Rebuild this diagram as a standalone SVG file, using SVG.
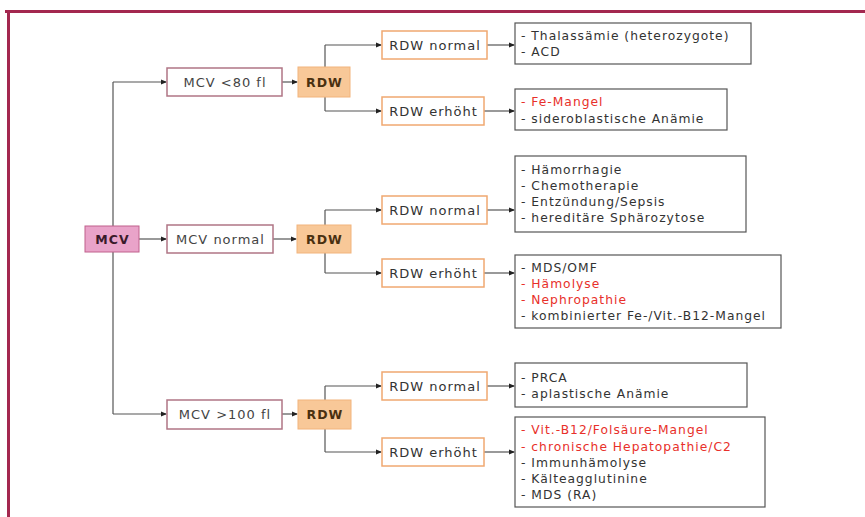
<svg xmlns="http://www.w3.org/2000/svg" width="865" height="517" viewBox="0 0 865 517">
<style>
text{font-family:"DejaVu Sans","Liberation Sans",sans-serif;fill:#333}
.mcv{fill:#e9a3c9;stroke:#c0608c;stroke-width:1}
.mcvs{fill:#fff;stroke:#b07585;stroke-width:1.5}
.rdw{fill:#f8c898;stroke:#f2b47c;stroke-width:1}
.rdws{fill:#fff;stroke:#f0a870;stroke-width:1.5}
.res{fill:#fff;stroke:#555;stroke-width:1.2}
.lbl{font-size:13px;letter-spacing:1px;text-anchor:middle;dominant-baseline:central}
.b{font-weight:bold;font-size:12.5px}
.r{font-size:12.3px;letter-spacing:1px}
.red{fill:#e8302a}
.ln{fill:none;stroke:#555;stroke-width:1.2}
</style>
<defs>
<marker id="ah" viewBox="0 0 6 6" refX="5" refY="3" markerWidth="6" markerHeight="6" markerUnits="userSpaceOnUse" orient="auto">
<path d="M0,0.5 L6,3 L0,5.5 z" fill="#222"/>
</marker>
</defs>
<rect width="865" height="517" fill="#fff"/>
<g id="frame">
<line x1="5" y1="11.5" x2="865" y2="11.5" stroke="#a3284f" stroke-width="3"/>
<line x1="8.5" y1="10" x2="8.5" y2="517" stroke="#a3284f" stroke-width="3"/>
</g>
<g id="connectors">
<path class="ln" d="M113,82 V414"/>
<path class="ln" d="M113,82 H166" marker-end="url(#ah)"/>
<path class="ln" d="M139,239 H166" marker-end="url(#ah)"/>
<path class="ln" d="M113,414 H166" marker-end="url(#ah)"/>
<path class="ln" d="M282,82 H297" marker-end="url(#ah)"/>
<path class="ln" d="M273,239 H296" marker-end="url(#ah)"/>
<path class="ln" d="M282,414 H297" marker-end="url(#ah)"/>
<path class="ln" d="M325,45 V111"/>
<path class="ln" d="M325,45 H381" marker-end="url(#ah)"/>
<path class="ln" d="M325,111 H381" marker-end="url(#ah)"/>
<path class="ln" d="M325,210 V273"/>
<path class="ln" d="M325,210 H381" marker-end="url(#ah)"/>
<path class="ln" d="M325,273 H381" marker-end="url(#ah)"/>
<path class="ln" d="M325,386 V452"/>
<path class="ln" d="M325,386 H381" marker-end="url(#ah)"/>
<path class="ln" d="M325,452 H381" marker-end="url(#ah)"/>
<path class="ln" d="M487,45 H514" marker-end="url(#ah)"/>
<path class="ln" d="M484,111 H514" marker-end="url(#ah)"/>
<path class="ln" d="M487,210 H514" marker-end="url(#ah)"/>
<path class="ln" d="M484,273 H514" marker-end="url(#ah)"/>
<path class="ln" d="M487,386 H514" marker-end="url(#ah)"/>
<path class="ln" d="M484,452 H514" marker-end="url(#ah)"/>
</g>
<g id="mcv">
<rect class="mcv" x="85" y="226" width="54" height="26"/>
<text class="lbl b" x="112.5" y="239" style="fill:#3a1a2a">MCV</text>
</g>
<g id="mcv-lt80">
<rect class="mcvs" x="167" y="68" width="115" height="28"/>
<text class="lbl" x="225" y="82" style="fill:#444">MCV &lt;80 fl</text>
</g>
<g id="mcv-normal">
<rect class="mcvs" x="167" y="225" width="106" height="28"/>
<text class="lbl" x="220.5" y="239" style="fill:#444">MCV normal</text>
</g>
<g id="mcv-gt100">
<rect class="mcvs" x="167" y="400" width="115" height="29"/>
<text class="lbl" x="225" y="414.5" style="fill:#444">MCV &gt;100 fl</text>
</g>
<g id="rdw1">
<rect class="rdw" x="298" y="67" width="52" height="30"/>
<text class="lbl b" x="324.5" y="82" style="fill:#4a3010">RDW</text>
</g>
<g id="rdw2">
<rect class="rdw" x="297" y="225" width="54" height="28"/>
<text class="lbl b" x="324.5" y="239" style="fill:#4a3010">RDW</text>
</g>
<g id="rdw3">
<rect class="rdw" x="298" y="400" width="53" height="29"/>
<text class="lbl b" x="325" y="414.5" style="fill:#4a3010">RDW</text>
</g>
<g id="rdw1-normal">
<rect class="rdws" x="382" y="31" width="105" height="28"/>
<text class="lbl" x="435" y="45">RDW normal</text>
</g>
<g id="rdw1-erhoeht">
<rect class="rdws" x="382" y="97" width="102" height="28"/>
<text class="lbl" x="433.5" y="111">RDW erhöht</text>
</g>
<g id="rdw2-normal">
<rect class="rdws" x="382" y="196" width="105" height="28"/>
<text class="lbl" x="435" y="210">RDW normal</text>
</g>
<g id="rdw2-erhoeht">
<rect class="rdws" x="382" y="259" width="102" height="28"/>
<text class="lbl" x="433.5" y="273">RDW erhöht</text>
</g>
<g id="rdw3-normal">
<rect class="rdws" x="382" y="372" width="105" height="28"/>
<text class="lbl" x="435" y="386">RDW normal</text>
</g>
<g id="rdw3-erhoeht">
<rect class="rdws" x="382" y="438" width="102" height="28"/>
<text class="lbl" x="433.5" y="452">RDW erhöht</text>
</g>
<g id="res1">
<rect class="res" x="515" y="23" width="236" height="41"/>
<text class="r" x="521" y="40">- Thalassämie (heterozygote)</text>
<text class="r" x="521" y="56">- ACD</text>
</g>
<g id="res2">
<rect class="res" x="515" y="89" width="212" height="41"/>
<text class="r red" x="521" y="106">- Fe-Mangel</text>
<text class="r" x="521" y="123">- sideroblastische Anämie</text>
</g>
<g id="res3">
<rect class="res" x="515" y="156" width="231" height="76"/>
<text class="r" x="521" y="174">- Hämorrhagie</text>
<text class="r" x="521" y="190">- Chemotherapie</text>
<text class="r" x="521" y="206">- Entzündung/Sepsis</text>
<text class="r" x="521" y="222">- hereditäre Sphärozytose</text>
</g>
<g id="res4">
<rect class="res" x="515" y="255" width="266" height="73"/>
<text class="r" x="521" y="272">- MDS/OMF</text>
<text class="r red" x="521" y="288">- Hämolyse</text>
<text class="r red" x="521" y="304">- Nephropathie</text>
<text class="r" x="521" y="320">- kombinierter Fe-/Vit.-B12-Mangel</text>
</g>
<g id="res5">
<rect class="res" x="515" y="363" width="232" height="44"/>
<text class="r" x="521" y="382">- PRCA</text>
<text class="r" x="521" y="398">- aplastische Anämie</text>
</g>
<g id="res6">
<rect class="res" x="515" y="417" width="250" height="90"/>
<text class="r red" x="521" y="434">- Vit.-B12/Folsäure-Mangel</text>
<text class="r red" x="521" y="451">- chronische Hepatopathie/C2</text>
<text class="r" x="521" y="467">- Immunhämolyse</text>
<text class="r" x="521" y="483">- Kälteagglutinine</text>
<text class="r" x="521" y="499">- MDS (RA)</text>
</g>
</svg>
